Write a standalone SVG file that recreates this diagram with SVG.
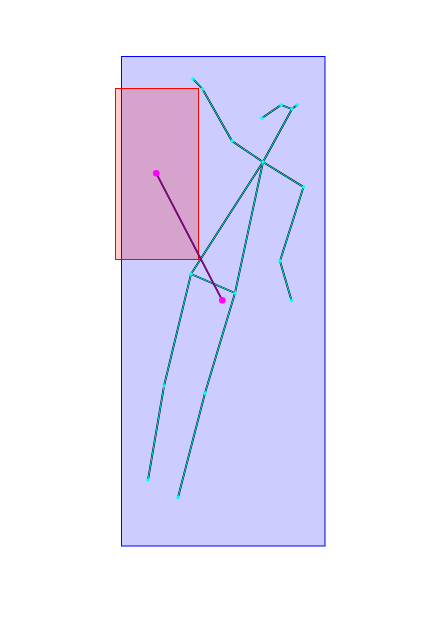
<svg xmlns="http://www.w3.org/2000/svg" width="425" height="640" viewBox="0 0 425 640">
<style>
.bone-k{stroke:#000;stroke-width:1.8;fill:none;stroke-linecap:round}
.bone-c{stroke:#00e0e0;stroke-width:1;fill:none;stroke-linecap:round}
.kp{fill:#00ffff}
.mk{fill:#ff00ff}
</style>
<rect width="425" height="640" fill="#fff"/>
<g id="bbox-blue"><rect x="121.5" y="56.5" width="203.5" height="489.5" fill="#ccccff" stroke="#0000ff" stroke-width="1"/></g>
<g id="bbox-red"><rect x="115.5" y="88.5" width="83" height="171" fill="#ff0000" fill-opacity="0.2" stroke="#ff0000" stroke-width="1"/></g>
<g id="connectors">
<g class="bone-k">
<polyline points="193,79 202.5,89 232,141 263,162 303.5,187 280,261 291.5,300.5"/>
<polyline points="262,118 281,105 292,109 297,105"/>
<line x1="292" y1="109" x2="263" y2="162"/>
<polyline points="263,162 191,274 164,386 148,480"/>
<polyline points="263,162 235,293 205,393 178,497.5"/>
<line x1="191" y1="274" x2="235" y2="293"/>
</g>
<g class="bone-c">
<polyline points="193,79 202.5,89 232,141 263,162 303.5,187 280,261 291.5,300.5"/>
<polyline points="262,118 281,105 292,109 297,105"/>
<line x1="292" y1="109" x2="263" y2="162"/>
<polyline points="263,162 191,274 164,386 148,480"/>
<polyline points="263,162 235,293 205,393 178,497.5"/>
<line x1="191" y1="274" x2="235" y2="293"/>
</g>
<line x1="156.3" y1="173.3" x2="222.3" y2="300.3" stroke="#400040" stroke-width="1.8"/>
<line x1="156.3" y1="173.3" x2="222.3" y2="300.3" stroke="#a000a0" stroke-width="1"/>
</g>
<g id="keypoints">
<circle class="kp" cx="193" cy="79" r="1.8"/>
<circle class="kp" cx="202.5" cy="89" r="1.8"/>
<circle class="kp" cx="232" cy="141" r="1.8"/>
<circle class="kp" cx="263" cy="162" r="1.8"/>
<circle class="kp" cx="303.5" cy="187" r="1.8"/>
<circle class="kp" cx="280" cy="261" r="1.8"/>
<circle class="kp" cx="291.5" cy="300.5" r="1.8"/>
<circle class="kp" cx="262" cy="118" r="1.8"/>
<circle class="kp" cx="281" cy="105" r="1.8"/>
<circle class="kp" cx="292" cy="109" r="1.8"/>
<circle class="kp" cx="297" cy="105" r="1.8"/>
<circle class="kp" cx="191" cy="274" r="1.8"/>
<circle class="kp" cx="164" cy="386" r="1.8"/>
<circle class="kp" cx="148" cy="480" r="1.8"/>
<circle class="kp" cx="235" cy="293" r="1.8"/>
<circle class="kp" cx="205" cy="393" r="1.8"/>
<circle class="kp" cx="178" cy="497.5" r="1.8"/>
</g>
<g id="magenta-points">
<circle class="mk" cx="156.3" cy="173.3" r="3.3"/>
<circle class="mk" cx="222.3" cy="300.3" r="3.3"/>
</g>
</svg>
